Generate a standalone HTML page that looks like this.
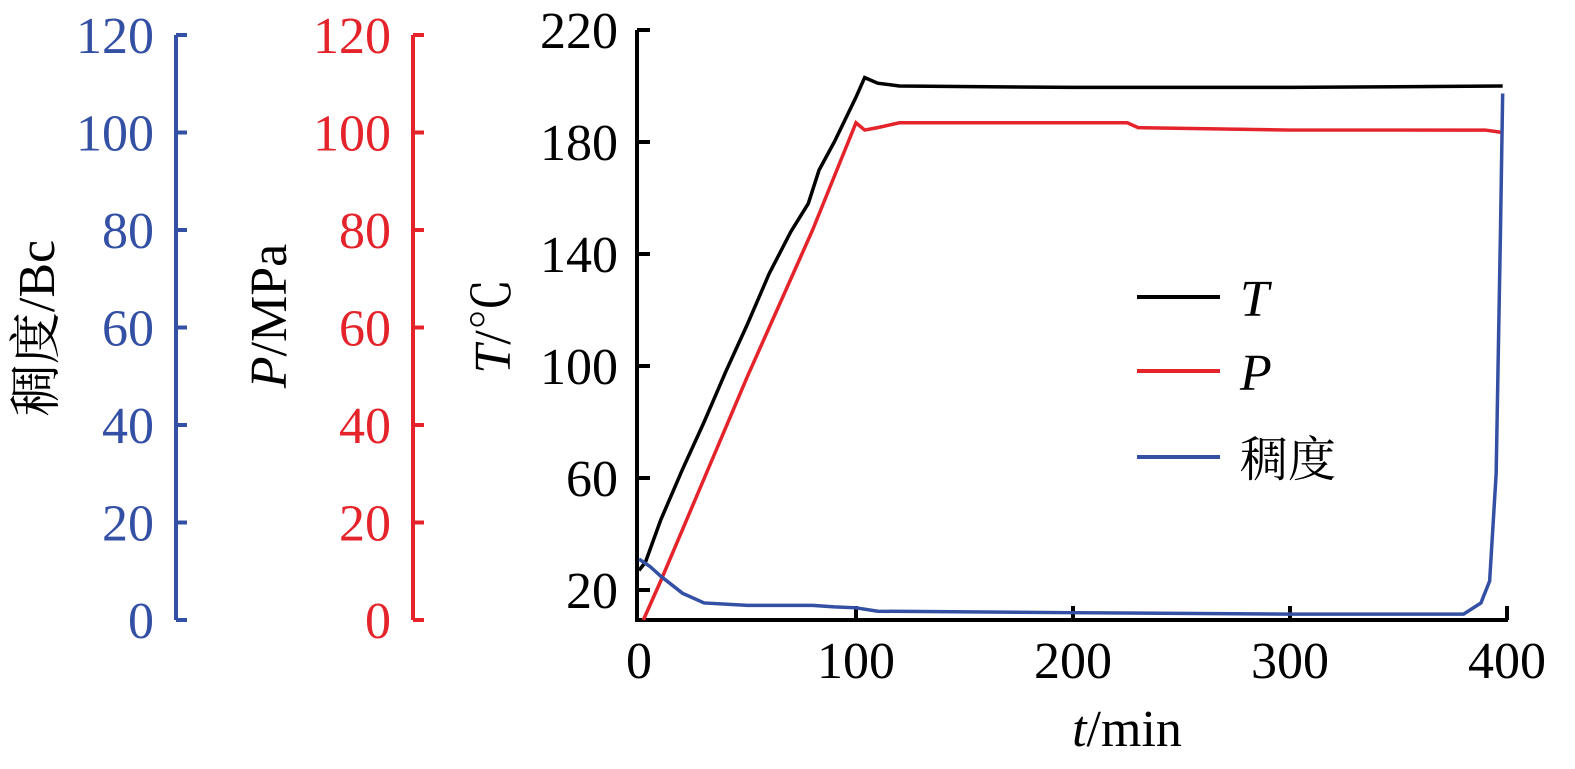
<!DOCTYPE html>
<html><head><meta charset="utf-8"><style>
body{margin:0;background:#fff}
svg{display:block}
text{font-family:"Liberation Serif","Noto Serif CJK SC","Noto Sans CJK SC",serif}
</style></head><body>
<svg id="chart" width="1575" height="769" viewBox="0 0 1575 769">
<g id="axes"></g><g id="series"></g>
<g>
<line x1="1137" y1="297" x2="1220" y2="297" stroke="#000" stroke-width="4"/>
<text x="1240" y="316" font-size="52" font-style="italic">T</text>
<line x1="1137" y1="371" x2="1220" y2="371" stroke="#e4232b" stroke-width="4"/>
<text x="1240" y="390" font-size="52" font-style="italic">P</text>
<line x1="1137" y1="457" x2="1220" y2="457" stroke="#3450a4" stroke-width="4"/>
<text x="1240" y="476" font-size="48">稠度</text>
</g>
</svg>
<script>
const tempTime=[0,3,10,20,30,40,50,60,70,78,83,90,100,104,110,120,200,300,398];
const tempVals=[27,30,45,63,80,98,115,133,148,158,170,180,196,203,201,200,199.5,199.5,200];
const presTime=[2,5,10,20,30,40,50,60,70,80,90,100,104,110,120,200,225,230,300,390,398];
const presVals=[0,3,8,18.5,29,39.5,50,60,70,80,91,102,100.5,101,102,102,102,101,100.5,100.5,100];
const consTime=[0,5,10,20,30,50,80,90,100,110,200,300,380,388,392,395,397,398];
const consVals=[12.5,11,9,5.5,3.5,3,3,2.7,2.5,1.8,1.5,1.2,1.2,3.5,8,30,80,108];
const tTicks=[20,60,100,140,180,220];
const xTicks=[0,100,200,300,400];
const sideTicks=[0,20,40,60,80,100,120];
const NS="http://www.w3.org/2000/svg";
const x=t=>639+2.17*t;
const yT=v=>30+(220-v)*2.8;
const yS=v=>620-v*4.875;
const axes=document.getElementById('axes'),series=document.getElementById('series');
function mk(tag,attrs,parent){const e=document.createElementNS(NS,tag);for(const k in attrs)e.setAttribute(k,attrs[k]);parent.appendChild(e);return e;}
function txt(parent,x0,y0,s,size,fill,anchor){const t=mk('text',{x:x0,y:y0,'font-size':size,fill:fill,'text-anchor':anchor},parent);t.textContent=s;return t;}
let l=mk('line',{x1:637,y1:30,x2:637,y2:620,stroke:'#000','stroke-width':4},axes);


l=mk('line',{x1:635,y1:620,x2:1508,y2:620,stroke:'#000','stroke-width':4},axes);


tTicks.forEach(v=>{const y=yT(v);mk('line',{x1:637,y1:y,x2:650,y2:y,stroke:'#000','stroke-width':4},axes);
const t=txt(axes,618,y+18,String(v),52,'#000','end');

});
xTicks.forEach(v=>{const X=x(v);if(v>0)mk('line',{x1:X,y1:620,x2:X,y2:606,stroke:'#000','stroke-width':4},axes);
const t=txt(axes,X,678,String(v),52,'#000','middle');

});
let tt=mk('text',{x:1127,y:746,'font-size':52,'text-anchor':'middle'},axes);
tt.innerHTML='<tspan font-style="italic">t</tspan>/min';


tt=mk('text',{transform:'translate(510,326) rotate(-90)','font-size':52,'text-anchor':'middle'},axes);
tt.innerHTML='<tspan font-style="italic">T</tspan>/℃';


[[176,'#3450a4','consistency'],[413,'#e4232b','pressure']].forEach(([ax,col,nm])=>{
 const a=mk('line',{x1:ax,y1:yS(120),x2:ax,y2:yS(0),stroke:col,'stroke-width':4},axes);
 
 
 sideTicks.forEach(v=>{const y=yS(v);mk('line',{x1:ax,y1:y,x2:ax+11,y2:y,stroke:col,'stroke-width':4},axes);
 const t=txt(axes,ax-22,y+18,String(v),52,col,'end');
 
 });
});
tt=mk('text',{transform:'translate(54,328) rotate(-90)','font-size':52,'text-anchor':'middle'},axes);
tt.textContent='稠度/Bc';


tt=mk('text',{transform:'translate(286,316) rotate(-90)','font-size':52,'text-anchor':'middle'},axes);
tt.innerHTML='<tspan font-style="italic">P</tspan>/MPa';


function line(ts,vs,yf,col,name){const p=mk('polyline',{points:ts.map((t,i)=>x(t)+','+yf(vs[i])).join(' '),fill:'none',stroke:col,'stroke-width':3.5},series);

}
line(tempTime,tempVals,yT,'#000','temperature-line');
line(presTime,presVals,yS,'#e4232b','pressure-line');
line(consTime,consVals,yS,'#3450a4','consistency-line');
</script>
</body></html>
